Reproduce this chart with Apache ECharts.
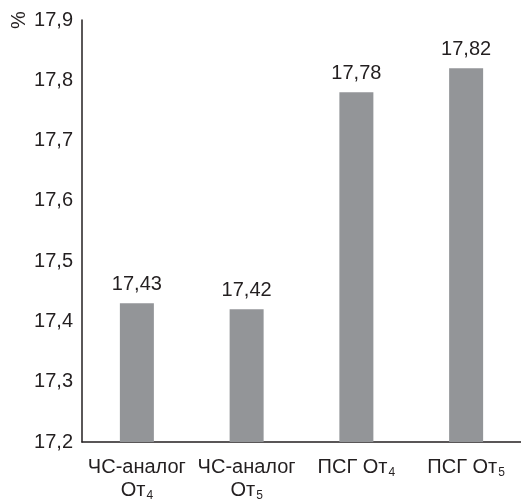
<!DOCTYPE html>
<html>
<head>
<meta charset="utf-8">
<script src="https://cdn.jsdelivr.net/npm/echarts@6/dist/echarts.min.js"></script>
<style>html,body{margin:0;padding:0;background:#fff}#c{width:521px;height:503px}</style>
</head>
<body>
<div id="c"></div>
<script>
var categories = ['ЧС-аналог|От|4', 'ЧС-аналог|От|5', 'ПСГ От|4', 'ПСГ От|5'];
var values = [17.43, 17.42, 17.78, 17.82];
var yTicks = {min: 17.2, max: 17.9, interval: 0.1};
var unitLabel = '%';

var font = 'Liberation Sans, Arial, sans-serif';
function catFmt(v) {
  var p = v.split('|');
  if (p.length === 3) return p[0] + '\n' + p[1] + '{sub|' + p[2] + '}';
  return p[0] + '{sub|' + p[1] + '}';
}
var chart = echarts.init(document.getElementById('c'));
chart.setOption({
  animation: false,
  grid: {left: 82, right: 0, top: 20, bottom: 61, containLabel: false},
  xAxis: {
    type: 'category', data: categories,
    axisLine: {lineStyle: {color: '#231f20', width: 1.5}},
    axisTick: {show: false},
    axisLabel: {
      color: '#231f20', fontFamily: font, fontSize: 20, margin: 14, lineHeight: 23,
      interval: 0,
      formatter: catFmt,
      rich: {sub: {fontSize: 12, fontFamily: font, color: '#231f20', verticalAlign: 'bottom', padding: [10, 0, 0, 1], lineHeight: 23}}
    }
  },
  yAxis: {
    type: 'value', min: yTicks.min, max: yTicks.max, interval: yTicks.interval,
    axisLine: {show: true, lineStyle: {color: '#231f20', width: 1.5}},
    axisTick: {show: false},
    splitLine: {show: false},
    axisLabel: {color: '#231f20', fontFamily: font, fontSize: 20, margin: 9,
      formatter: function (v) { return v.toFixed(1).replace('.', ','); }}
  },
  graphic: [{type: 'text', x: 9, y: 29, rotation: Math.PI / 2,
    style: {text: unitLabel, font: '20px ' + font, fill: '#231f20'}}],
  series: [{
    type: 'bar', data: values, barWidth: 34,
    itemStyle: {color: '#939598'},
    label: {show: true, position: 'top', distance: 9, color: '#231f20', fontFamily: font, fontSize: 20,
      formatter: function (p) { return p.value.toFixed(2).replace('.', ','); }}
  }]
});
</script>
</body>
</html>
